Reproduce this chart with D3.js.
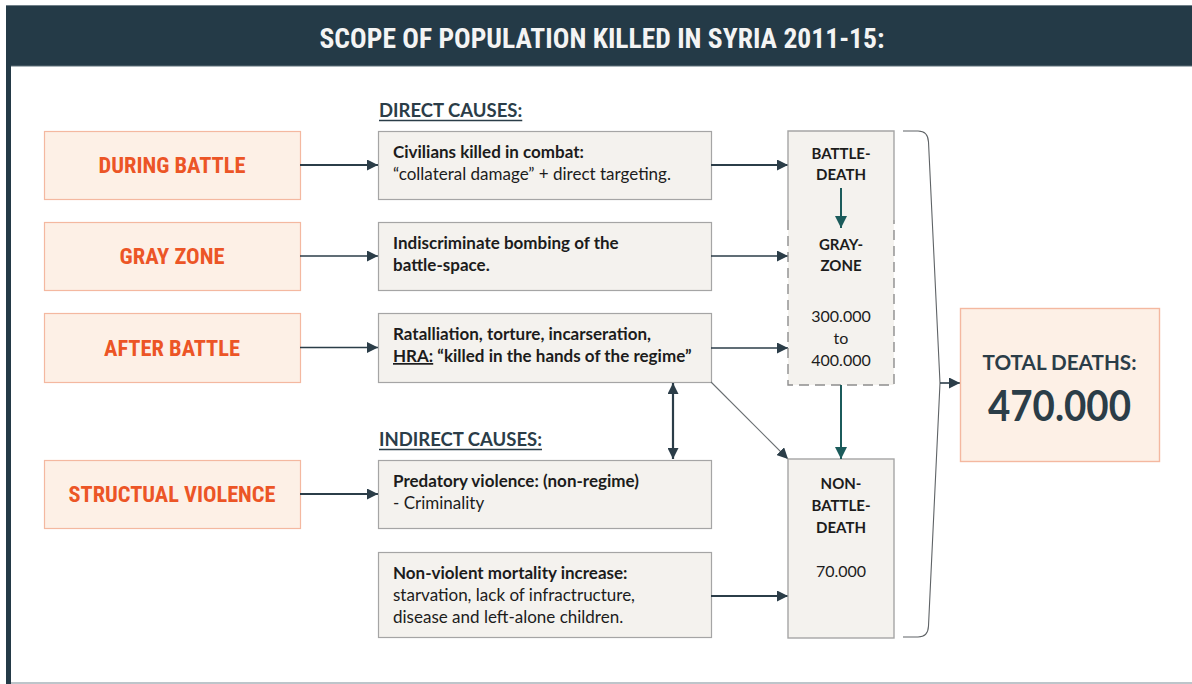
<!DOCTYPE html>
<html><head><meta charset="utf-8">
<script src="https://cdn.jsdelivr.net/npm/d3@7"></script>
<style>
html,body{margin:0;padding:0;background:#fff;}
svg{display:block;}
</style></head>
<body>
<svg id="chart" width="1192" height="684"></svg>
<script>
// ---------- data ----------
const title = "SCOPE OF POPULATION KILLED IN SYRIA 2011-15:";
const causes = ["DURING BATTLE", "GRAY ZONE", "AFTER BATTLE", "STRUCTUAL VIOLENCE"];
const sectionHeadings = ["DIRECT CAUSES:", "INDIRECT CAUSES:"];
const descBold = [
  ["Civilians killed in combat:"],
  ["Indiscriminate bombing of the", "battle-space."],
  ["Ratalliation, torture, incarseration,"],
  ["Predatory violence: (non-regime)"],
  ["Non-violent mortality increase:"]
];
const descRegular = [
  ["\u201Ccollateral damage\u201D + direct targeting."],
  [],
  [],
  ["- Criminality"],
  ["starvation, lack of infractructure,", "disease and left-alone children."]
];
const battleLabels = [["BATTLE-", "DEATH"], ["GRAY-", "ZONE"]];
const nonBattleLabel = ["NON-", "BATTLE-", "DEATH"];
const battleRange = [300000, 400000];
const nonBattleDeaths = [70000];
const totalDeaths = [470000];
const totalLabel = "TOTAL DEATHS:";

// ---------- helpers ----------
const loc = d3.formatLocale({decimal: ",", thousands: ".", grouping: [3], currency: ["", ""]});
const fmt = loc.format(",.0f");

const C = {
  header: "#243a47", dark: "#2b3d48", orange: "#ec5526", oFill: "#fdf0e6", oStroke: "#f4b8a0",
  gFill: "#f4f2ee", gStroke: "#a5a5a5", text: "#1c1c1c", green: "#1b5b5b"
};
const bodyFont = "Lato, 'Open Sans', sans-serif";
const condFont = "'Liberation Sans Narrow', 'Roboto Condensed', Roboto, sans-serif";

const svg = d3.select("#chart");
const defs = svg.append("defs");
function marker(id, color, size) {
  defs.append("marker").attr("id", id).attr("viewBox", "0 0 10 10")
    .attr("refX", 10).attr("refY", 5).attr("markerUnits", "userSpaceOnUse")
    .attr("markerWidth", size).attr("markerHeight", size).attr("orient", "auto-start-reverse")
    .append("path").attr("d", "M0,0 L10,5 L0,10 z").attr("fill", color);
}
marker("arrDark", C.dark, 11);
marker("arrGreen", C.green, 12);

// ---------- frame ----------
svg.append("rect").attr("x", 6).attr("y", 5).attr("width", 1192).attr("height", 61).attr("fill", C.header);
svg.append("line").attr("x1", 6).attr("x2", 1192).attr("y1", 5.5).attr("y2", 5.5).attr("stroke", "#6f7f88").attr("stroke-width", 1);
svg.append("line").attr("x1", 11).attr("x2", 1192).attr("y1", 66).attr("y2", 66).attr("stroke", "#5d6f79").attr("stroke-width", 1);
svg.append("rect").attr("x", 6).attr("y", 66).attr("width", 5).attr("height", 618).attr("fill", C.header);
svg.append("line").attr("x1", 11).attr("x2", 1192).attr("y1", 683).attr("y2", 683).attr("stroke", "#a7b2b9").attr("stroke-width", 1.5);

svg.append("text").attr("x", 602).attr("y", 48).attr("text-anchor", "middle")
  .attr("font-family", condFont).attr("font-weight", "bold").attr("font-size", 27)
  .attr("fill", "#f4f4f4").attr("textLength", 565).attr("lengthAdjust", "spacingAndGlyphs")
  .text(title);

// ---------- layout scales ----------
const rowTop = d3.scaleOrdinal().domain(d3.range(5)).range([131, 222, 313, 460, 552]);
const rowH = d3.scaleOrdinal().domain(d3.range(5)).range([68, 68, 69, 68, 85]);
const colX = {cause: [44, 300], desc: [378, 711], out: [788, 894], total: [960, 1159]};

// ---------- cause boxes ----------
const causeWidths = [147, 105, 136, 207];
const causeRows = [0, 1, 2, 3];
const cg = svg.append("g");
causes.forEach((c, i) => {
  const y0 = rowTop(causeRows[i]), h = rowH(causeRows[i]);
  cg.append("rect").attr("x", colX.cause[0] + 0.5).attr("y", y0 + 0.5)
    .attr("width", colX.cause[1] - colX.cause[0]).attr("height", h)
    .attr("fill", C.oFill).attr("stroke", C.oStroke).attr("stroke-width", 1.2);
  cg.append("text").attr("x", (colX.cause[0] + colX.cause[1]) / 2).attr("y", y0 + h / 2 + 8)
    .attr("text-anchor", "middle").attr("font-family", condFont).attr("font-weight", "bold")
    .attr("font-size", 22).attr("fill", C.orange)
    .attr("textLength", causeWidths[i]).attr("lengthAdjust", "spacingAndGlyphs").text(c);
  const ay = y0 + h / 2;
  cg.append("line").attr("x1", colX.cause[1]).attr("x2", colX.desc[0]).attr("y1", ay).attr("y2", ay)
    .attr("stroke", C.dark).attr("stroke-width", i === 0 || i === 3 ? 2.2 : 1.6).attr("marker-end", "url(#arrDark)");
});

// ---------- section headings ----------
const headY = [117, 446];
sectionHeadings.forEach((h, i) => {
  const t = svg.append("text").attr("x", 379).attr("y", headY[i]).attr("font-family", bodyFont)
    .attr("font-weight", "bold").attr("font-size", 18.5).attr("fill", C.dark).text(h);
  const w = t.node().getComputedTextLength();
  svg.append("line").attr("x1", 379).attr("x2", 379 + w).attr("y1", headY[i] + 3.5).attr("y2", headY[i] + 3.5)
    .attr("stroke", C.dark).attr("stroke-width", 1.6);
});

// ---------- description boxes ----------
const dg = svg.append("g");
const fs = 17;
descBold.forEach((lines, i) => {
  const y0 = rowTop(i), h = rowH(i);
  dg.append("rect").attr("x", colX.desc[0] + 0.5).attr("y", y0 + 0.5)
    .attr("width", colX.desc[1] - colX.desc[0]).attr("height", h)
    .attr("fill", C.gFill).attr("stroke", C.gStroke).attr("stroke-width", 1.2);
  let ly = y0 + 27;
  lines.forEach(l => {
    dg.append("text").attr("x", 393).attr("y", ly).attr("font-family", bodyFont).attr("font-weight", "bold")
      .attr("font-size", fs).attr("fill", C.text).text(l);
    ly += 22;
  });
  if (i === 2) {
    const t = dg.append("text").attr("x", 393).attr("y", ly).attr("font-family", bodyFont).attr("font-weight", "bold")
      .attr("font-size", fs).attr("fill", C.text);
    t.append("tspan").attr("text-decoration", "underline").text("HRA:");
    t.append("tspan").text(" \u201Ckilled in the hands of the regime\u201D");
    ly += 22;
  }
  descRegular[i].forEach(l => {
    dg.append("text").attr("x", 393).attr("y", ly).attr("font-family", bodyFont)
      .attr("font-size", fs).attr("fill", C.text).text(l);
    ly += 22;
  });
});

// arrows from descriptions to outcomes
const outArrowY = [165, 256, 348, null, 596];
outArrowY.forEach((y, i) => {
  if (y === null) return;
  dg.append("line").attr("x1", colX.desc[1]).attr("x2", colX.out[0]).attr("y1", y).attr("y2", y)
    .attr("stroke", C.dark).attr("stroke-width", i === 0 || i === 4 ? 2.2 : 1.6).attr("marker-end", "url(#arrDark)");
});
dg.append("line").attr("x1", colX.desc[1]).attr("y1", 382).attr("x2", colX.out[0]).attr("y2", 459)
  .attr("stroke", "#6a6f72").attr("stroke-width", 1.1).attr("marker-end", "url(#arrDark)");
dg.append("line").attr("x1", 673).attr("x2", 673).attr("y1", 383).attr("y2", 459)
  .attr("stroke", C.dark).attr("stroke-width", 2.2)
  .attr("marker-start", "url(#arrDark)").attr("marker-end", "url(#arrDark)");

// ---------- outcome boxes ----------
const og = svg.append("g");
const ox0 = colX.out[0], ox1 = colX.out[1], ocx = (ox0 + ox1) / 2;
og.append("rect").attr("x", ox0).attr("y", 131).attr("width", ox1 - ox0).attr("height", 254).attr("fill", C.gFill);
og.append("path").attr("d", `M${ox0},220 V131 H${ox1} V220`).attr("fill", "none").attr("stroke", C.gStroke).attr("stroke-width", 1.4);
og.append("path").attr("d", `M${ox0},220 V385 H${ox1} V220`).attr("fill", "none").attr("stroke", "#8d8d8d")
  .attr("stroke-width", 1.4).attr("stroke-dasharray", "10,6");
og.append("rect").attr("x", ox0).attr("y", 459).attr("width", ox1 - ox0).attr("height", 179)
  .attr("fill", C.gFill).attr("stroke", C.gStroke).attr("stroke-width", 1.4);

const lbl = (y, t, bold) => og.append("text").attr("x", ocx).attr("y", y).attr("text-anchor", "middle")
  .attr("font-family", bodyFont).attr("font-weight", bold ? "bold" : "normal").attr("font-size", bold ? 15 : 16)
  .attr("fill", C.text).text(t);
battleLabels[0].forEach((t, j) => lbl(159 + j * 21, t, true));
battleLabels[1].forEach((t, j) => lbl(250 + j * 21, t, true));
lbl(322, fmt(battleRange[0]), false);
lbl(344, "to", false);
lbl(366, fmt(battleRange[1]), false);
nonBattleLabel.forEach((t, j) => lbl(489 + j * 22, t, true));
lbl(577, fmt(nonBattleDeaths[0]), false);

og.append("line").attr("x1", ocx).attr("x2", ocx).attr("y1", 188).attr("y2", 228)
  .attr("stroke", C.green).attr("stroke-width", 2).attr("marker-end", "url(#arrGreen)");
og.append("line").attr("x1", ocx).attr("x2", ocx).attr("y1", 385).attr("y2", 459)
  .attr("stroke", C.green).attr("stroke-width", 2).attr("marker-end", "url(#arrGreen)");

// ---------- bracket ----------
svg.append("path").attr("d", "M903,131 H918 Q928,131 928.5,142 L940,383 L928.5,626 Q928,637 918,637 H903")
  .attr("fill", "none").attr("stroke", "#5f6366").attr("stroke-width", 1.1);
svg.append("line").attr("x1", 940).attr("x2", colX.total[0]).attr("y1", 383).attr("y2", 383)
  .attr("stroke", C.dark).attr("stroke-width", 1.6).attr("marker-end", "url(#arrDark)");

// ---------- total box ----------
const tg = svg.append("g");
tg.append("rect").attr("x", colX.total[0] + 0.5).attr("y", 308.5).attr("width", colX.total[1] - colX.total[0]).attr("height", 153)
  .attr("fill", C.oFill).attr("stroke", C.oStroke).attr("stroke-width", 1.4);
const tcx = (colX.total[0] + colX.total[1]) / 2;
tg.append("text").attr("x", tcx).attr("y", 370).attr("text-anchor", "middle").attr("font-family", bodyFont)
  .attr("font-weight", "bold").attr("font-size", 20).attr("fill", C.dark)
  .attr("textLength", 154).attr("lengthAdjust", "spacingAndGlyphs").text(totalLabel);
tg.append("text").attr("x", tcx).attr("y", 421).attr("text-anchor", "middle").attr("font-family", bodyFont)
  .attr("font-weight", "bold").attr("font-size", 42).attr("fill", C.dark)
  .attr("textLength", 143).attr("lengthAdjust", "spacingAndGlyphs").text(fmt(totalDeaths[0]));
</script>
</body></html>
